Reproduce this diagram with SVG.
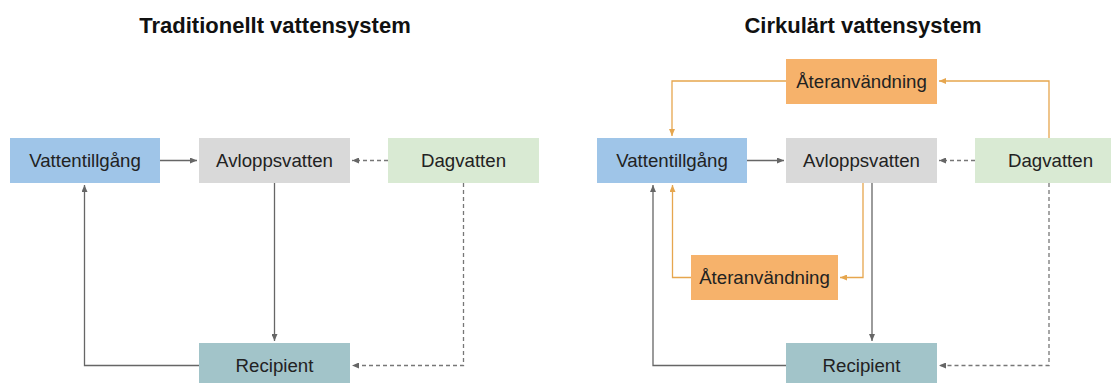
<svg xmlns="http://www.w3.org/2000/svg" width="1111" height="383" viewBox="0 0 1111 383">
<style>
.title{font-family:"Liberation Sans",Arial,sans-serif;font-size:22px;font-weight:bold;fill:#111;text-anchor:middle}
.lbl{font-family:"Liberation Sans",Arial,sans-serif;font-size:18.67px;fill:#222;text-anchor:middle}
.vt{fill:#9fc5e8}.av{fill:#d9d9d9}.dv{fill:#d9ead3}.rc{fill:#a2c4c9}.at{fill:#f6b26b}
.g{fill:none;stroke:#666;stroke-width:1.3;marker-end:url(#ag)}
.d{fill:none;stroke:#777;stroke-width:1.3;stroke-dasharray:4 3;marker-end:url(#ag)}
.o{fill:none;stroke:#e6a64e;stroke-width:1.3;marker-end:url(#ao)}
</style>
<defs>
<marker id="ag" markerUnits="userSpaceOnUse" markerWidth="8" markerHeight="6" refX="7" refY="3" orient="auto"><path d="M0,0 L7,3 L0,6 z" fill="#666"/></marker>
<marker id="ao" markerUnits="userSpaceOnUse" markerWidth="8" markerHeight="6" refX="7" refY="3" orient="auto"><path d="M0,0 L7,3 L0,6 z" fill="#e6a64e"/></marker>
</defs>
<rect width="1111" height="383" fill="#fff"/>
<text class="title" x="275" y="33">Traditionellt vattensystem</text>
<text class="title" x="863" y="33">Cirkulärt vattensystem</text>

<g id="connectors">
<path class="g" d="M160,160.5 H197"/>
<path class="d" d="M388,160.5 H352"/>
<path class="g" d="M274.5,183 V341"/>
<path class="g" d="M199,365.5 H84.5 V185"/>
<path class="d" d="M463.5,183 V365.5 H352"/>

<path class="o" d="M786,81 H672 V136"/>
<path class="o" d="M1049,138 V81 H939"/>
<path class="g" d="M747,160.5 H784"/>
<path class="d" d="M975,160.5 H939"/>
<path class="o" d="M863,183 V277.5 H840"/>
<path class="o" d="M691,277.5 H672.5 V185"/>
<path class="g" d="M872,183 V341"/>
<path class="g" d="M786,365.5 H653 V185"/>
<path class="d" d="M1049,183 V365.5 H939"/>
</g>

<g id="l-vattentillgang"><rect class="vt" x="10" y="138" width="150" height="45"/><text class="lbl" x="85" y="167">Vattentillgång</text></g>
<g id="l-avloppsvatten"><rect class="av" x="199" y="138" width="151" height="45"/><text class="lbl" x="274.5" y="167">Avloppsvatten</text></g>
<g id="l-dagvatten"><rect class="dv" x="388" y="138" width="151" height="45"/><text class="lbl" x="463.5" y="167">Dagvatten</text></g>
<g id="l-recipient"><rect class="rc" x="199" y="343" width="151" height="45"/><text class="lbl" x="274.5" y="372">Recipient</text></g>

<g id="r-ateranvandning-top"><rect class="at" x="786" y="59" width="151" height="45"/><text class="lbl" x="861.5" y="88">Återanvändning</text></g>
<g id="r-vattentillgang"><rect class="vt" x="597" y="138" width="150" height="45"/><text class="lbl" x="672" y="167">Vattentillgång</text></g>
<g id="r-avloppsvatten"><rect class="av" x="786" y="138" width="151" height="45"/><text class="lbl" x="861.5" y="167">Avloppsvatten</text></g>
<g id="r-dagvatten"><rect class="dv" x="975" y="138" width="151" height="45"/><text class="lbl" x="1050.5" y="167">Dagvatten</text></g>
<g id="r-ateranvandning-bottom"><rect class="at" x="691" y="255" width="147" height="45"/><text class="lbl" x="764.5" y="284">Återanvändning</text></g>
<g id="r-recipient"><rect class="rc" x="786" y="343" width="151" height="45"/><text class="lbl" x="861.5" y="372">Recipient</text></g>
</svg>
